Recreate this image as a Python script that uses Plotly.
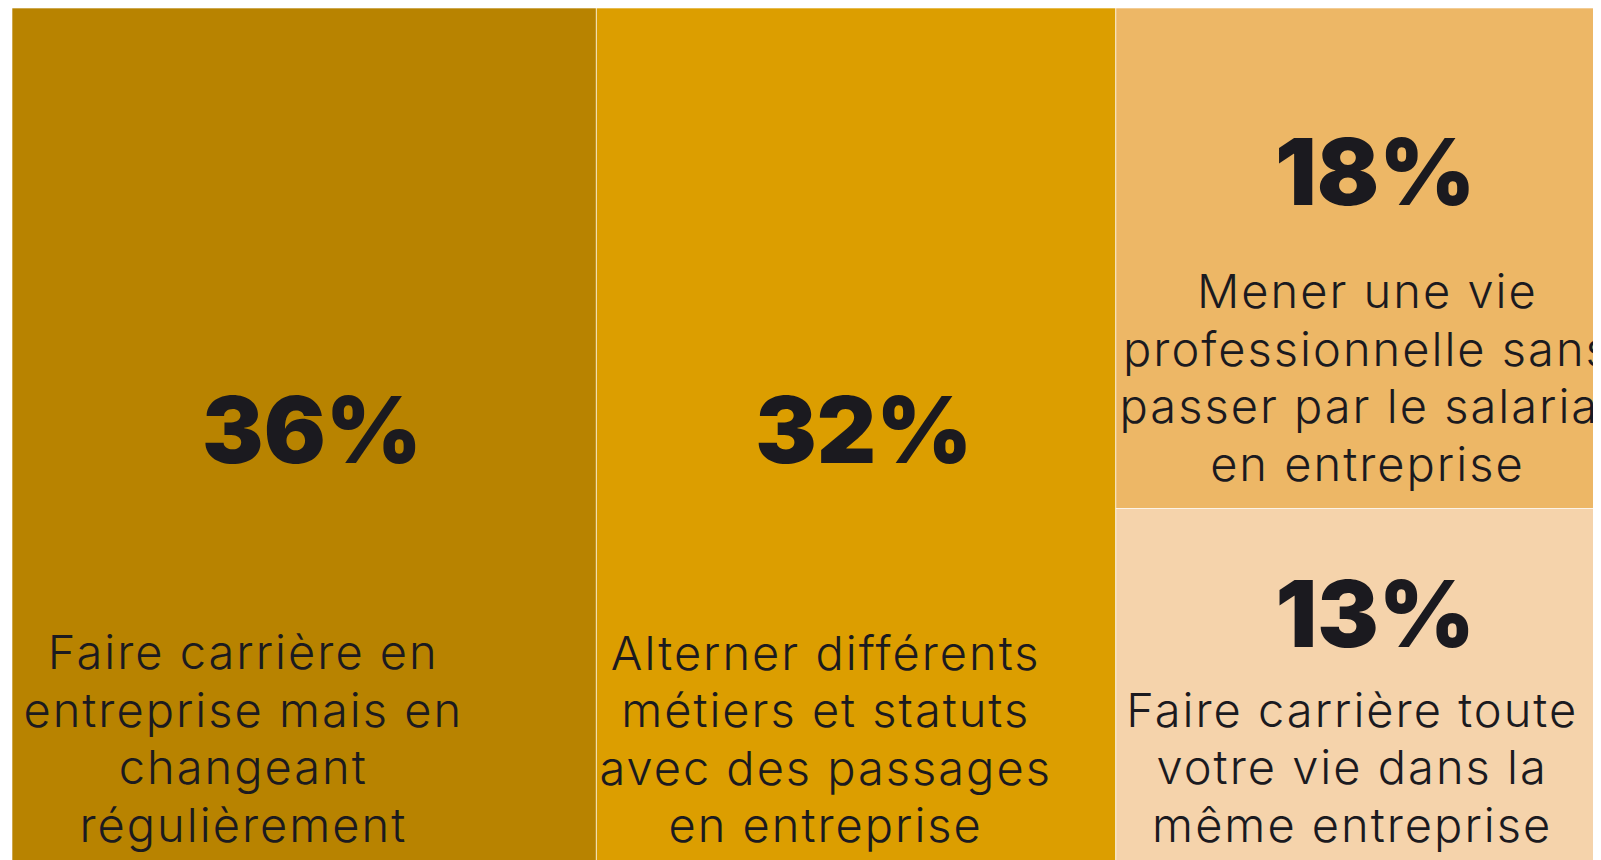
import plotly.graph_objects as go

# ---- data ----
categories = [
    "Faire carrière en entreprise mais en changeant régulièrement",
    "Alterner différents métiers et statuts avec des passages en entreprise",
    "Mener une vie professionnelle sans passer par le salariat en entreprise",
    "Faire carrière toute votre vie dans la même entreprise",
]
label_lines = [
    ["Faire carrière en", "entreprise mais en", "changeant", "régulièrement"],
    ["Alterner différents", "métiers et statuts", "avec des passages", "en entreprise"],
    ["Mener une vie", "professionnelle sans", "passer par le salariat", "en entreprise"],
    ["Faire carrière toute", "votre vie dans la", "même entreprise"],
]
values = [36, 32, 18, 13]
colors = ["#B88300", "#DC9E00", "#EDB766", "#F5D3AB"]

# ---- styling ----
BASE = 8.846          # base font -> one <br> = 11.5 px
LINE_STEP = 5         # <br> between label lines (57.5 px)
GAP = [18, 18, 9, 7]  # <br> between percent and label
PAD = [8, 4, 0, 2]    # trailing nbsp to shift label left
TAIL = "<br><br>\u00a0"  # lifts the text block off the tile bottom
LEAD = "<span style='font-size:55px'>\u00a0</span>"  # nudges percent right
PCT_STYLE = "font-family:Inter;font-weight:900;font-size:92px"
LAB_STYLE = "font-size:47px;letter-spacing:2px"

texts = []
for v, lines, g, p in zip(values, label_lines, GAP, PAD):
    pad = "\u00a0" * p
    lab = ("<br>" * LINE_STEP).join(
        f"<span style='{LAB_STYLE}'>{ln}{pad}</span>" for ln in lines)
    texts.append(LEAD + f"<span style='{PCT_STYLE}'>{v}%</span>"
                 + "<br>" * g + lab + TAIL)

fig = go.Figure(go.Treemap(
    labels=categories,
    parents=[""] * len(categories),
    values=values,
    text=texts,
    textinfo="text",
    textposition="bottom center",
    marker=dict(colors=colors, line=dict(color="rgba(255,255,255,0.6)", width=1),
                pad=dict(t=0, l=0, r=0, b=0)),
    textfont=dict(family="Inter", size=BASE, color="#1B1A1F", weight=300),
    pathbar=dict(visible=False),
    tiling=dict(pad=0),
    hoverinfo="skip",
    sort=True,
))
fig.update_layout(
    width=1620, height=870,
    margin=dict(l=4, r=9, t=0, b=8),
    paper_bgcolor="white",
    showlegend=False,
)
fig.write_html("out.html")
